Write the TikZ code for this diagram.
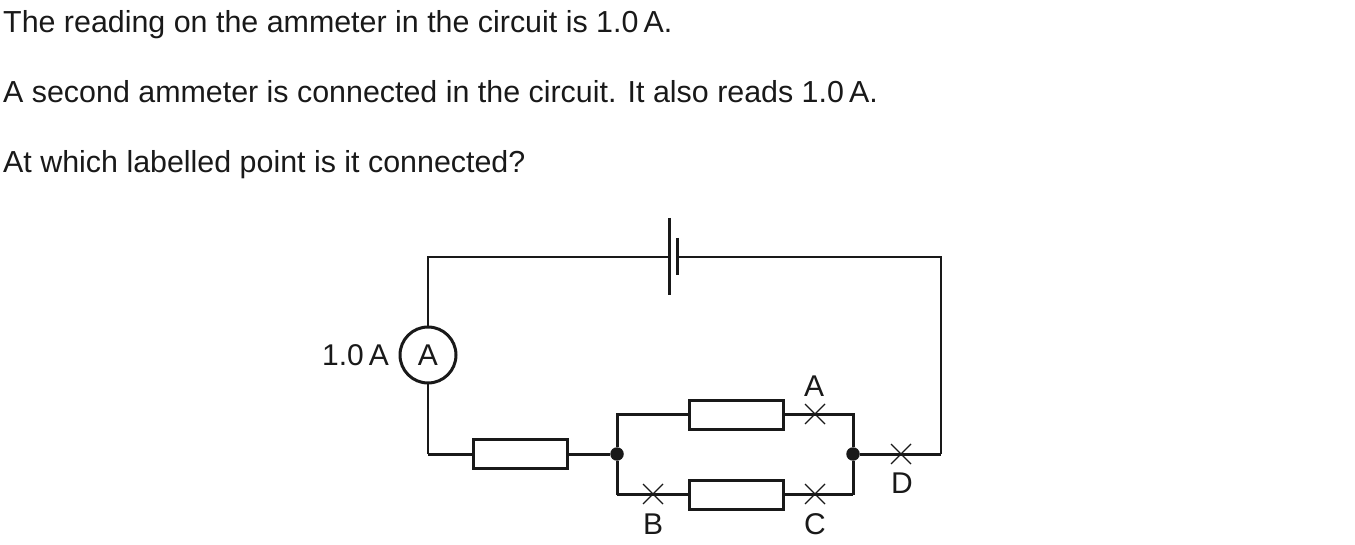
\documentclass[tikz,border=0pt]{standalone}
\usepackage{fontspec}
\setmainfont{Liberation Sans}
\usetikzlibrary{
  shapes.misc,
  positioning,
}
\tikzset{
  wire/.style={line width=2.3pt, black!90, line join=miter},
  thick wire/.style={line width=3pt, black!90, line join=miter},
  resistor/.style={draw, line width=3pt, black!90, minimum width=94pt, minimum height=29pt, inner sep=0pt, outer sep=0pt},
  junction/.style={circle, fill=black!90, minimum size=13.5pt, inner sep=0pt},
  meter/.style={circle, draw, line width=3pt, black!90, minimum size=56pt, inner sep=0pt, outer sep=0pt, font=\fontsize{30pt}{33pt}\selectfont},
  point/.style={cross out, draw, line width=1.3pt, black!90, minimum size=20pt, inner sep=0pt, outer sep=0pt},
  question/.style={anchor=base west, inner sep=0pt, font=\fontsize{30.4pt}{33pt}\selectfont, text=black!90},
  tag/.style={inner sep=0pt, font=\fontsize{30pt}{33pt}\selectfont, text=black!90},
}
\begin{document}
\begin{tikzpicture}[x=1pt, y=-1pt]
\useasboundingbox (0,0) rectangle (1355,545);

\node[question] (line1) at (3,33) {The reading on the ammeter in the circuit is 1.0\,A.};
\node[question] (line2) at (3,103) {A second ammeter is connected in the circuit. It also reads 1.0\,A.};
\node[question] (line3) at (3,173) {At which labelled point is it connected?};

% corners
\coordinate (topleft) at (428,257);
\coordinate (topright) at (941,257);
\coordinate (botleft) at (428,454);
\coordinate (botright) at (941,454);
\coordinate (upleft) at (617,414.5);
\coordinate (upright) at (853,414.5);
\coordinate (lowleft) at (617,494.5);
\coordinate (lowright) at (853,494.5);

% cell
\coordinate (long) at (669.5,257);
\coordinate (short) at (677.5,257);
\coordinate (longtop) at (669.5,218);
\coordinate (longbot) at (669.5,295);
\coordinate (shorttop) at (677.5,238);
\coordinate (shortbot) at (677.5,275);
\draw[thick wire] (longtop) -- (longbot);
\draw[thick wire] (shorttop) -- (shortbot);

\node[meter] (meter) at (428,355) {A};
\node[tag, left=11pt of meter] (reading) {1.0\,A};

\node[resistor] (r1) at (520,454) {};
\node[resistor] (r2) at (736.5,414.5) {};
\node[resistor] (r3) at (736.5,494.5) {};

\node[junction] (j1) at (617,454) {};
\node[junction] (j2) at (853,454) {};

\draw[wire] (long) -- (topleft) -- (meter);
\draw[wire] (short) -- (topright) -- (botright);
\draw[wire] (meter) -- (botleft);
\draw[thick wire] (botleft) -- (r1) -- (j1);
\draw[thick wire] (j2) -- (botright);
\draw[thick wire] (j1) -- (upleft) -- (r2) -- (upright) -- (j2);
\draw[wire] (lowleft) -- (r3) -- (lowright);
\draw[thick wire] (j1) -- (lowleft);
\draw[thick wire] (j2) -- (lowright);

% labelled points
\foreach \name/\xx/\yy/\lx/\ly in {A/815/414/814/386, B/653/494/653/524, C/815/494/815/524, D/901/454/902/483} {
  \node[point] (pt\name) at (\xx,\yy) {};
  \node[tag] (lab\name) at (\lx,\ly) {\name};
}
\end{tikzpicture}
\end{document}
